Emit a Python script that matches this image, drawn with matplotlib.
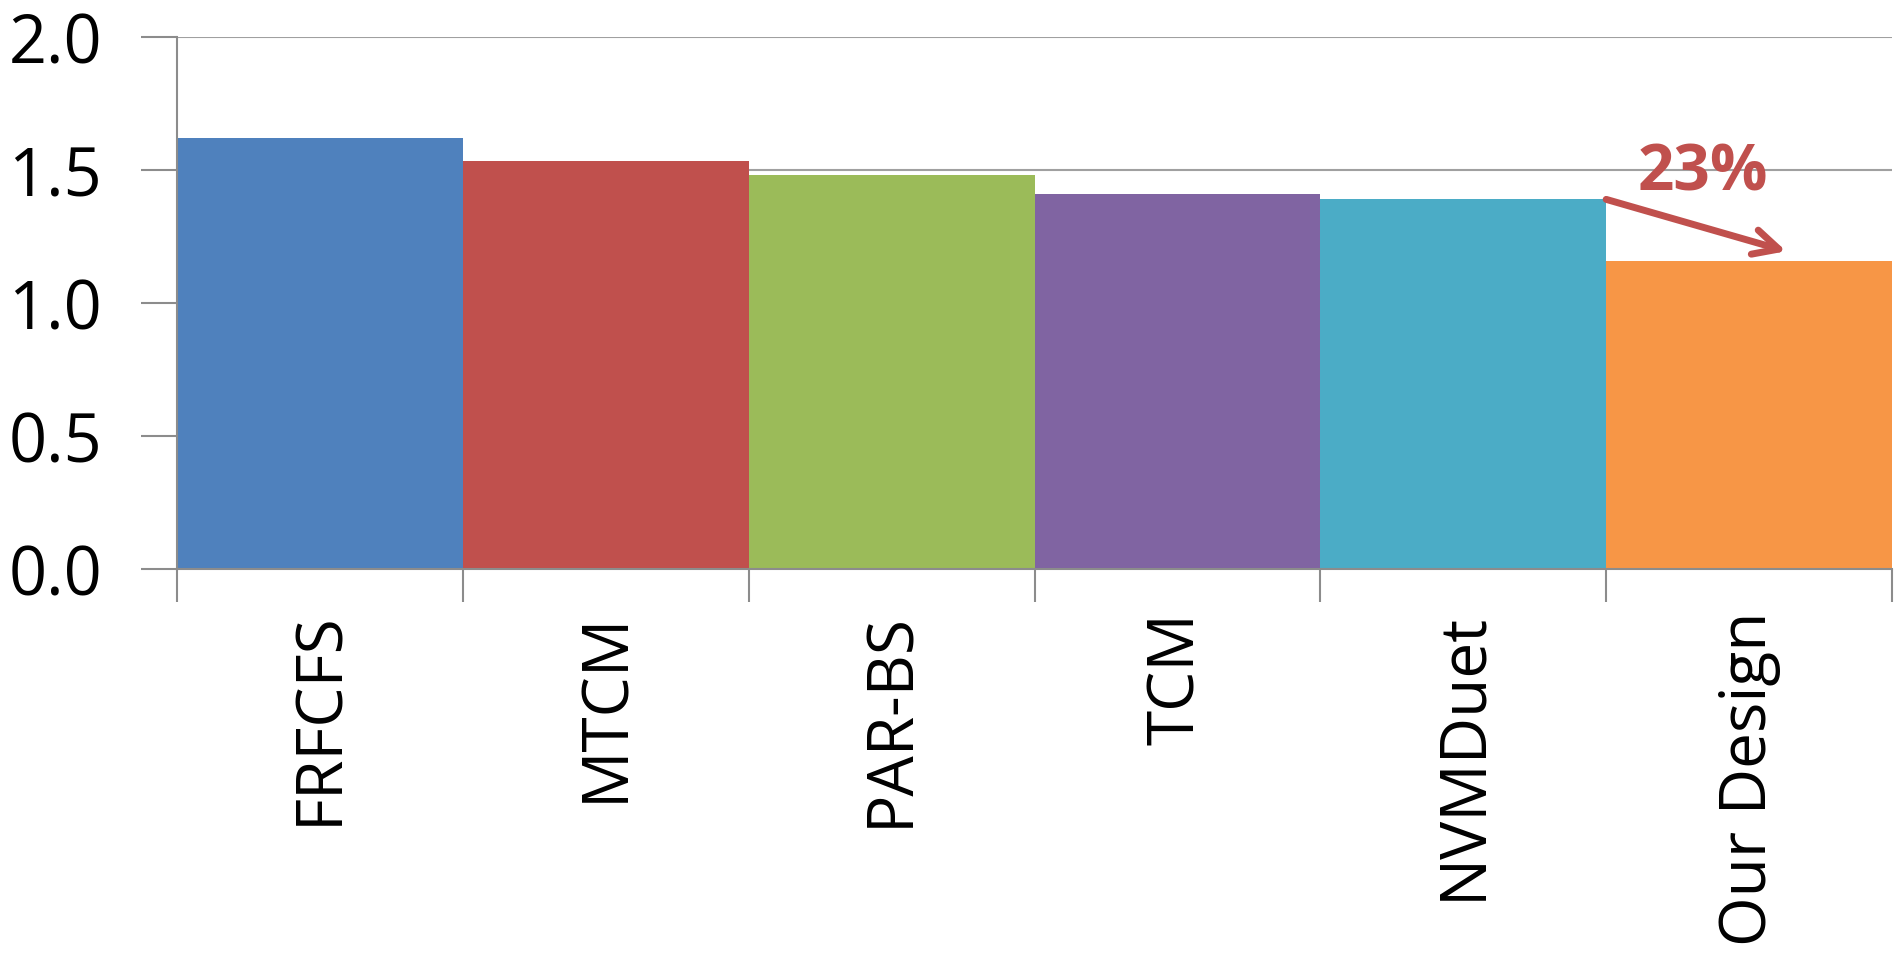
import matplotlib.pyplot as plt
import numpy as np

plt.rcParams['font.family'] = ['Open Sans', 'DejaVu Sans']

# data
categories = ['FRFCFS', 'MTCM', 'PAR-BS', 'TCM', 'NVMDuet', 'Our Design']
values = [1.62, 1.535, 1.48, 1.41, 1.39, 1.16]
colors = ['#4F81BD', '#C0504D', '#9BBB59', '#8064A2', '#4BACC6', '#F79646']
yticks = [0.0, 0.5, 1.0, 1.5, 2.0]

fig = plt.figure(figsize=(19.04, 9.54), dpi=100)
ax = fig.add_axes([0.093, 0.4025, 0.9007, 0.5575])

x = np.arange(len(categories))
ax.bar(x, values, width=1.0, color=colors, zorder=2)

ax.set_xlim(-0.5, len(categories) - 0.5)
ax.set_ylim(0, 2.0)
ax.set_yticks(yticks)
ax.set_yticklabels([f'{v:.1f}' for v in yticks], fontsize=48)
ax.yaxis.grid(True, color='#A0A0A0', lw=1.5, zorder=0)

# category labels centred, tick marks on the boundaries
ax.set_xticks(x)
ax.set_xticklabels(categories, rotation=90, fontsize=46)
ax.tick_params(axis='x', which='major', length=0, pad=30)
ax.set_xticks(np.arange(len(categories) + 1) - 0.5, minor=True)
ax.tick_params(axis='x', which='minor', length=24, width=1.5, color='#8C8C8C')
ax.tick_params(axis='y', length=26, width=1.5, color='#8C8C8C', pad=28)

for s in ['top', 'right']:
    ax.spines[s].set_visible(False)
for s in ['left', 'bottom']:
    ax.spines[s].set_color('#8C8C8C')
    ax.spines[s].set_linewidth(1.5)

# reduction arrow from NVMDuet to Our Design
ax.annotate('', xy=(5.13, 1.195), xytext=(4.5, values[4]),
            arrowprops=dict(arrowstyle='->', color='#C0504D', lw=5,
                            mutation_scale=45, shrinkA=0, shrinkB=0),
            zorder=5)
ax.text(4.84, 1.49, '23%', color='#C0504D', fontsize=46, fontweight='bold',
        ha='center', va='center', zorder=5)

fig.savefig('out.png', dpi=100)
